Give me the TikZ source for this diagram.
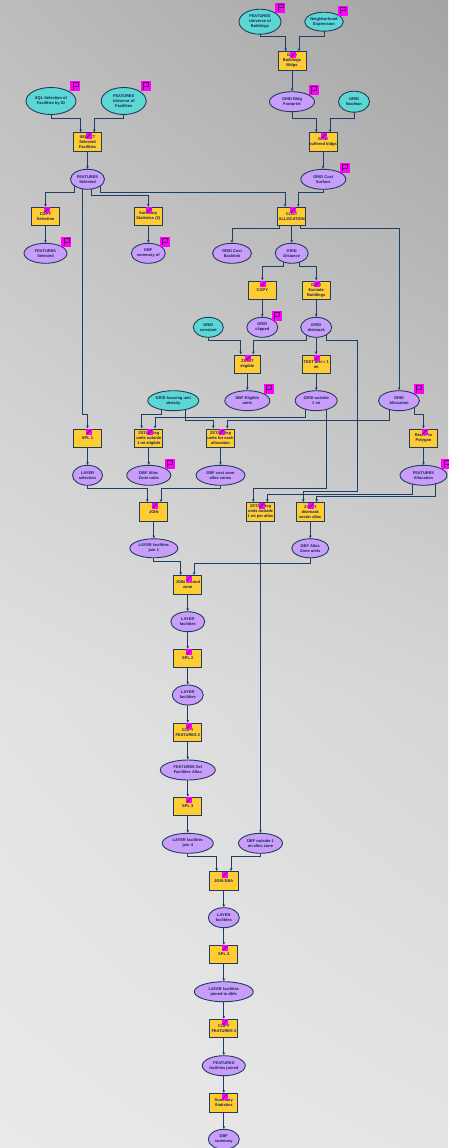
\documentclass[tikz,border=0pt]{standalone}
\usepackage{fontspec}
\newfontfamily\lblfont{Liberation Sans}
\usetikzlibrary{shapes.geometric,arrows.meta,shadings}
\pgfdeclarelayer{backdrop}
\pgfdeclarelayer{wires}
\pgfsetlayers{backdrop,wires,main}

\definecolor{toolfill}{RGB}{255,204,51}
\definecolor{datafill}{RGB}{200,158,250}
\definecolor{inputfill}{RGB}{92,216,212}
\definecolor{nodeedge}{RGB}{34,60,92}
\definecolor{wirecol}{RGB}{28,62,104}
\definecolor{labeltext}{RGB}{20,36,84}
\definecolor{flagmag}{RGB}{255,0,255}
\definecolor{flagink}{RGB}{90,16,96}
\definecolor{bgA}{RGB}{188,188,188}
\definecolor{bgB}{RGB}{164,164,164}
\definecolor{bgC}{RGB}{226,226,226}
\definecolor{bgD}{RGB}{214,214,214}
\definecolor{bgE}{RGB}{234,234,234}
\definecolor{bgF}{RGB}{228,228,228}

\tikzset{
  base/.style={draw=nodeedge, line width=0.9pt, inner sep=0pt, align=center,
    text=labeltext, font=\lblfont\bfseries\fontsize{4}{5}\selectfont},
  tool/.style={base, rectangle, fill=toolfill, minimum width=28pt, minimum height=18.5pt},
  data/.style={base, ellipse, fill=datafill, minimum height=20pt},
  input/.style={base, ellipse, fill=inputfill, minimum height=20pt},
  wire/.style={draw=wirecol, line width=0.9pt, -{Stealth[length=3pt,width=2.6pt]}},
  eflagpic/.pic={
    \fill[flagmag] (-5,-5) rectangle (5,5);
    \draw[flagink, line width=0.6pt] (-2.5,3.5) -- (-2.5,-3.5) -- (2.5,-3.5) -- (2.5,0) -- (-2.5,0);
  },
  bflagpic/.pic={
    \fill[flagmag] (-3,-3) rectangle (3,3);
    \draw[flagink, line width=0.7pt] (-2,2) -- (2,-2);
  },
}

% elbow connector: source, x offset, level of the horizontal run, target, x offset
\newcommand\elbow[5]{\draw[wire] ([xshift=#2pt]#1.center) -- ([xshift=#2pt]#1.center |- 0,#3) -| ([xshift=#5pt]#4.north);}
% straight vertical connector
\newcommand\straight[2]{\draw[wire] (#1.center) -- (#1.center |- #2.north);}
% flags on outputs and on tools
\newcommand\eflag[1]{\pic at ([xshift=-1pt,yshift=1pt]#1.east |- #1.north) {eflagpic};}
\newcommand\bflag[1]{\pic at ([xshift=1pt,yshift=-3.5pt]#1.north) {bflagpic};}

\begin{document}
\begin{tikzpicture}[x=1pt,y=-1pt]
\begin{pgfonlayer}{backdrop}
  \shade[upper left=bgA, upper right=bgB, lower left=bgC, lower right=bgD] (0,0) rectangle (448,700);
  \shade[upper left=bgC, upper right=bgD, lower left=bgE, lower right=bgF] (0,700) rectangle (448,1148);
\end{pgfonlayer}
\useasboundingbox (0,0) rectangle (448,1148);

% ---- building cost surface branch
\node[input, minimum width=42pt, minimum height=25pt] (bld) at (260,21.7) {FEATURES\\Universe of\\Buildings};
\node[input, minimum width=38pt, minimum height=19pt] (nexp) at (324,21.7) {Neighborhood\\Expression};
\node[tool] (selbld) at (292,61) {GRID\\Buildings\\Bldgs};
\node[data, minimum width=45pt] (bldfp) at (292,101.7) {GRID Bldg\\Footprint};
\node[input, minimum width=31pt, minimum height=21pt] (bool) at (354,101.7) {GRID\\Boolean};
\node[tool] (mosaic) at (323,142) {GRID\\buffered bldgs};
\node[data, minimum width=45pt] (costsurf) at (323.3,179.3) {GRID Cost\\Surface};

% ---- facility selection
\node[input, minimum width=50pt, minimum height=27pt] (sql) at (51,101) {SQL Selection of\\Facilities by ID};
\node[input, minimum width=45pt, minimum height=27pt] (fac) at (123.7,101) {FEATURES\\Universe of\\Facilities};
\node[tool] (selfac) at (87.5,142) {SELECT\\Selected\\Facilities};
\node[data, minimum width=34pt] (featsel) at (87.5,179.3) {FEATURES\\Selected};
\node[tool] (copysel) at (45.5,216.5) {COPY\\Selection};
\node[tool] (sumstat2) at (148.3,216.5) {Summary\\Statistics (2)};
\node[tool] (costalloc) at (291.7,216.5) {COST\\ALLOCATION};
\node[data, minimum width=43pt] (featsel2) at (45.5,253.3) {FEATURES\\Selected};
\node[data, minimum width=34pt] (dbfsum) at (148.3,253.3) {DBF\\summary of};
\node[data, minimum width=39pt] (backlink) at (232,253.3) {GRID Cost\\Backlink};
\node[data, minimum width=33pt] (distance) at (291.7,253.3) {GRID\\Distance};

% ---- distance processing
\node[tool] (copy) at (262.3,290.2) {COPY};
\node[tool] (exclude) at (316.2,290.2) {GRID\\Exclude\\Buildings};
\node[input, minimum width=30pt] (const) at (208.3,327.3) {GRID\\constant};
\node[data, minimum width=31pt] (clipped) at (262.3,327.3) {GRID\\clipped};
\node[data, minimum width=31pt] (distmask) at (316.2,327.3) {GRID\\distmask};
\node[tool, minimum width=26pt] (zsel) at (247.3,364.2) {ZSTAT\\eligible};
\node[tool] (test) at (316.2,364.2) {TEST dist {\textless} 1\\mi};
\node[input, minimum width=51pt] (hud) at (173.3,400.7) {GRID housing unit\\density};
\node[data, minimum width=45pt] (dbfelig) at (247.3,400.7) {DBF Eligible\\units};
\node[data, minimum width=42pt] (outside) at (316.2,400.7) {GRID outside\\1 mi};
\node[data, minimum width=41pt] (alloc) at (399,400.7) {GRID\\Allocation};

% ---- zonal statistics
\node[tool] (spl1) at (87.5,438.2) {SPL 1};
\node[tool] (z1) at (148.8,438.2) {ZSTAT Hsg\\units outside\\1 mi eligible};
\node[tool] (z2) at (220.5,438.2) {ZSTAT Hsg\\units for each\\allocation};
\node[tool] (r2p) at (423.5,438.2) {Raster to\\Polygon};
\node[data, minimum width=30pt] (laysel) at (87.5,475.3) {LAYER\\selection};
\node[data, minimum width=44pt] (dbfaz) at (148.8,475.3) {DBF Alloc\\Zone units};
\node[data, minimum width=49pt] (dbfcost) at (220.5,475.3) {DBF cost zone\\alloc zones};
\node[data, minimum width=47pt] (featalloc) at (423.5,475.3) {FEATURES\\Allocation};
\node[tool] (join) at (153.8,511.8) {JOIN};
\node[tool] (z3) at (260.5,511.8) {ZSTAT Hsg\\units outside\\1 mi per alloc};
\node[tool] (z4) at (310.3,511.8) {ZSTAT\\distmask\\sector alloc};
\node[data, minimum width=48pt, minimum height=19pt] (layj1) at (153.8,548.3) {LAYER facilities\\join 1};
\node[data, minimum width=37pt, minimum height=19pt] (dbfaz2) at (310.3,548.3) {DBF Alloc\\Zone units};

% ---- joins down the main chain
\node[tool] (join2) at (187.8,584.8) {JOIN second\\zone};
\node[data, minimum width=34pt] (layfac) at (187.8,621.7) {LAYER\\facilities};
\node[tool] (spl2) at (187.8,658.5) {SPL 2};
\node[data, minimum width=31pt] (layfac2) at (187.8,695) {LAYER\\facilities};
\node[tool] (copyf2) at (187.8,732.5) {COPY\\FEATURES 2};
\node[data, minimum width=55pt] (featsfa) at (187.8,770) {FEATURES Sel\\Facilities Alloc};
\node[tool] (spl3) at (187.8,806.5) {SPL 3};
\node[data, minimum width=51pt] (layj4) at (187.8,843.3) {LAYER facilities\\join 4};
\node[data, minimum width=44pt] (dbfout) at (260.5,843.3) {DBF outside 1\\mi alloc zone};
\node[tool, minimum width=29pt] (joindba) at (223.8,880.8) {JOIN DBA};
\node[data, minimum width=31pt] (layfac3) at (223.8,917.7) {LAYER\\facilities};
\node[tool] (spl4) at (223.8,954.5) {SPL 4};
\node[data, minimum width=59pt] (layjd) at (223.8,991.7) {LAYER facilities\\joined to dbfs};
\node[tool] (copyf3) at (223.8,1028.5) {COPY\\FEATURES 3};
\node[data, minimum width=43pt] (featfj) at (223.8,1065.7) {FEATURES\\facilities joined};
\node[tool] (sumstat) at (223.8,1102.7) {Summary\\Statistics};
\node[data, minimum width=31pt] (dbfsum2) at (223.8,1139.3) {DBF\\summary};

% ---- connectors
\begin{pgfonlayer}{wires}
\elbow{bld}{0}{36.7}{selbld}{-6.3}
\elbow{nexp}{0}{36.7}{selbld}{7}
\straight{selbld}{bldfp}
\elbow{bldfp}{0}{118}{mosaic}{-6.7}
\elbow{bool}{0}{118}{mosaic}{7}
\straight{mosaic}{costsurf}
\elbow{sql}{0}{118.3}{selfac}{-6.8}
\elbow{fac}{0}{118.3}{selfac}{6.8}
\straight{selfac}{featsel}
\elbow{featsel}{-12.8}{192.3}{copysel}{0}
\elbow{featsel}{4.2}{195.7}{sumstat2}{0}
\elbow{featsel}{12.8}{192.3}{costalloc}{-6.7}
\elbow{featsel}{-4.8}{414.3}{spl1}{0}
\elbow{costsurf}{0}{192.3}{costalloc}{6.6}
\straight{copysel}{featsel2}
\straight{sumstat2}{dbfsum}
\elbow{costalloc}{-12.2}{228.3}{backlink}{0}
\straight{costalloc}{distance}
\elbow{costalloc}{8.6}{228.3}{alloc}{0}
\elbow{distance}{-8.4}{266}{copy}{0}
\elbow{distance}{7.6}{266}{exclude}{0}
\straight{copy}{clipped}
\straight{exclude}{distmask}
\elbow{const}{0}{340.3}{zsel}{-6.6}
\elbow{distmask}{-10.2}{340.3}{zsel}{6}
\straight{distmask}{test}
\draw[wire] ([xshift=9.8pt]distmask.center) |- (357.7,340.3) -- (357.7,491) -| ([xshift=-7pt]z4.north);
\straight{zsel}{dbfelig}
\straight{test}{outside}
\elbow{hud}{-12.3}{414.3}{z1}{-7.1}
\elbow{hud}{12.4}{420.3}{z2}{-7.2}
\elbow{outside}{-10.5}{417.3}{z1}{6.2}
\elbow{outside}{9.8}{488.3}{z3}{-7.2}
\elbow{alloc}{-9.7}{420.3}{z2}{6.8}
\elbow{alloc}{15}{414.3}{r2p}{0}
\straight{spl1}{laysel}
\straight{z1}{dbfaz}
\straight{z2}{dbfcost}
\straight{r2p}{featalloc}
\elbow{laysel}{0}{488.3}{join}{-6.5}
\elbow{dbfcost}{0}{488.3}{join}{7.2}
\elbow{featalloc}{-11.2}{494}{z3}{6.8}
\elbow{featalloc}{11.5}{496.7}{z4}{6.4}
\straight{join}{layj1}
\straight{z4}{dbfaz2}
\straight{z3}{dbfout}
\elbow{layj1}{0}{561}{join2}{-7.1}
\elbow{dbfaz2}{0}{563.7}{join2}{6.2}
\straight{join2}{layfac}
\straight{layfac}{spl2}
\straight{spl2}{layfac2}
\straight{layfac2}{copyf2}
\straight{copyf2}{featsfa}
\straight{featsfa}{spl3}
\straight{spl3}{layj4}
\elbow{layj4}{0}{856.7}{joindba}{-7.1}
\elbow{dbfout}{0}{856.7}{joindba}{7.2}
\straight{joindba}{layfac3}
\straight{layfac3}{spl4}
\straight{spl4}{layjd}
\straight{layjd}{copyf3}
\straight{copyf3}{featfj}
\straight{featfj}{sumstat}
\straight{sumstat}{dbfsum2}
\end{pgfonlayer}

% ---- flags
\foreach \n in {bld,nexp,bldfp,sql,fac,costsurf,featsel2,dbfsum,clipped,dbfelig,alloc,dbfaz,featalloc}{\eflag{\n}}
\foreach \n in {selbld,selfac,mosaic,copysel,sumstat2,costalloc,copy,exclude,zsel,test,spl1,z1,z2,r2p,join,z3,z4,join2,spl2,copyf2,spl3,joindba,spl4,copyf3,sumstat}{\bflag{\n}}
\end{tikzpicture}
\end{document}
